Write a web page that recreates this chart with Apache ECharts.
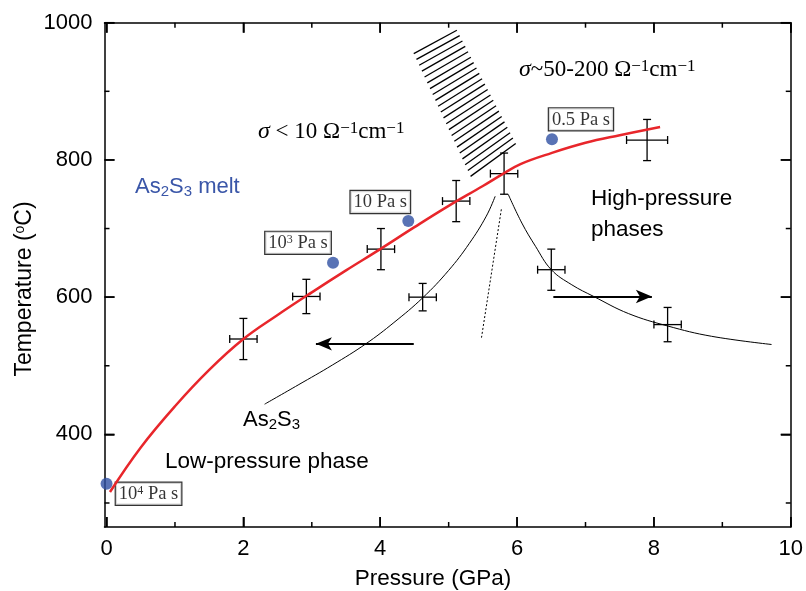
<!DOCTYPE html>
<html><head><meta charset="utf-8">
<script src="https://cdn.jsdelivr.net/npm/echarts@6/dist/echarts.min.js"></script>
<style>html,body{margin:0;padding:0;background:#fff}#c{width:806px;height:591px}</style>
</head><body><div id="c"></div>
<script>
// ---------- data ----------
const xTicks = [0, 2, 4, 6, 8, 10];
const xMinorTicks = [1, 3, 5, 7, 9];
const yTicks = [400, 600, 800, 1000];
const yMinorTicks = [300, 500, 700, 900];

// melting curve (red)
const meltCurve = [[0.05,316],[0.5,381],[1.0,441],[1.5,494],[2.0,539],[2.5,574],[3.0,607],[3.5,639],[4.0,670],[4.5,702],[5.0,733],[5.5,762],[5.8,780],[6.05,794],[6.5,810],[7.0,825],[7.5,836],[8.09,848]];
// low/high pressure phase boundaries (black)
const lowPressureBoundary = [[2.31,444],[2.8,472],[3.3,501],[3.79,532],[4.2,563],[4.62,599],[5.0,639],[5.3,678],[5.55,718],[5.68,747]];
const highPressureBoundary = [[5.87,750],[6.07,708],[6.27,674],[6.5,640],[6.8,618],[7.12,601],[7.63,576],[8.2,558],[8.84,543],[9.72,531]];
const dottedBoundary = [[5.77,728],[5.48,541]];
// experimental points: [P, T, P error, T error]
const errorPoints = [[2.0,539,0.2,30],[2.92,601,0.2,25],[4.01,670,0.2,30],[5.11,740,0.2,30],[5.81,780,0.2,30],[7.9,829,0.3,30],[4.62,600,0.2,20],[6.5,640,0.2,30],[8.2,560,0.2,25]];
// viscosity points (blue)
const viscosityPoints = [[0,328],[3.31,650],[4.41,711],[6.51,830]];
const viscosityLabels = ['10{sup|4} Pa s','10{sup|3} Pa s','10 Pa s','0.5 Pa s'];
// hatched band corners: top-left, top-right, bottom-right, bottom-left
const hatchCorners = [[4.49,955],[5.12,989],[5.98,824],[5.32,776]];
const hatchLineCount = 22;
// arrows [from, to]
const arrows = [[[4.49,532],[3.06,532]],[[6.53,601],[7.97,601]]];

// ---------- chart ----------
const SANS = 'Liberation Sans, Arial, Helvetica, sans-serif';
const SERIF = 'Liberation Serif, Times New Roman, serif';
const BLUE = '#3050a2';
const X_MIN = -0.03, X_MAX = 10, Y_MIN = 265, Y_MAX = 1000;
const labelOffsets = [[42,10],[-35,-20],[-28,-19],[29,-20]];

const chart = echarts.init(document.getElementById('c'), null, {renderer:'canvas'});

function axisX(pos, showLabel){
  return {type:'value', min:X_MIN, max:X_MAX, position:pos,
    axisLine:{show:true, onZero:false, lineStyle:{color:'#000', width:1.5}},
    axisTick:{show:true, inside:true, length:10, customValues:xTicks, lineStyle:{color:'#000', width:1.5}},
    axisLabel:{show:showLabel, customValues:xTicks, formatter:v=>String(v), fontSize:22, color:'#000', fontFamily:SANS, margin:11},
    splitLine:{show:false}};
}
function axisY(pos, showLabel){
  return {type:'value', min:Y_MIN, max:Y_MAX, position:pos,
    axisLine:{show:true, onZero:false, lineStyle:{color:'#000', width:1.5}},
    axisTick:{show:true, inside:true, length:10, customValues:yTicks, lineStyle:{color:'#000', width:1.5}},
    axisLabel:{show:showLabel, customValues:yTicks, formatter:v=>String(v), fontSize:22, color:'#000', fontFamily:SANS, margin:12},
    splitLine:{show:false}};
}

const textGraphics = [
  {type:'text', x:135, y:175, style:{text:'As{sub|2}S{sub|3} melt', fill:'#3a56a8', font:'22px '+SANS,
    rich:{sub:{fontSize:15, fill:'#3a56a8', fontFamily:SANS, verticalAlign:'bottom', padding:[9,0,0,0]}}}},
  {type:'text', x:591, y:187, style:{text:'High-pressure', fill:'#000', font:'22.5px '+SANS}},
  {type:'text', x:591, y:218, style:{text:'phases', fill:'#000', font:'22.5px '+SANS}},
  {type:'text', x:243, y:408, style:{text:'As{sub|2}S{sub|3}', fill:'#000', font:'22px '+SANS,
    rich:{sub:{fontSize:15, fill:'#000', fontFamily:SANS, verticalAlign:'bottom', padding:[9,0,0,0]}}}},
  {type:'text', x:165, y:450, style:{text:'Low-pressure phase', fill:'#000', font:'22.5px '+SANS}},
  {type:'text', x:258, y:120, style:{text:'{i|σ} < 10 Ω{sup|−1}cm{sup|−1}', fill:'#000', font:'23px '+SERIF,
    rich:{i:{fontStyle:'italic', fontSize:24, fontFamily:SERIF}, sup:{fontSize:17, fontFamily:SERIF, verticalAlign:'top'}}}},
  {type:'text', x:519, y:58, style:{text:'{i|σ}~50-200 Ω{sup|−1}cm{sup|−1}', fill:'#000', font:'23px '+SERIF,
    rich:{i:{fontStyle:'italic', fontSize:24, fontFamily:SERIF}, sup:{fontSize:17, fontFamily:SERIF, verticalAlign:'top'}}}},
  {type:'text', x:433, y:579, style:{text:'Pressure (GPa)', fill:'#000', font:'22.5px '+SANS, align:'center', verticalAlign:'middle'}},
  {type:'text', x:25, y:289, rotation:Math.PI/2, style:{text:'Temperature ({sup|o}C)', fill:'#000', font:'23px '+SANS, align:'center', verticalAlign:'middle',
    rich:{sup:{fontSize:14, fontFamily:SANS, verticalAlign:'top'}}}}
];

const option = {
  animation:false,
  backgroundColor:'#fff',
  grid:{left:104.5, right:13, top:22.7, bottom:64, containLabel:false},
  xAxis:[axisX('bottom',true), axisX('top',false)],
  yAxis:[axisY('left',true), axisY('right',false)],
  series:[
    {type:'custom', name:'hatch', silent:true, data:[[5,900]], clip:true,
      renderItem:function(params, api){
        const P = hatchCorners.map(c=>api.coord(c));
        const kids = [];
        for(let i=0;i<hatchLineCount;i++){
          const t = i/(hatchLineCount-1);
          const a = [P[0][0]+(P[3][0]-P[0][0])*t, P[0][1]+(P[3][1]-P[0][1])*t];
          const b = [P[1][0]+(P[2][0]-P[1][0])*t, P[1][1]+(P[2][1]-P[1][1])*t];
          kids.push({type:'line', shape:{x1:a[0],y1:a[1],x2:b[0],y2:b[1]}, style:{stroke:'#000', lineWidth:1.3}});
        }
        return {type:'group', children:kids};
      }},
    {type:'line', name:'low', data:lowPressureBoundary, smooth:0.4, symbol:'none', silent:true,
      lineStyle:{color:'#000', width:1}},
    {type:'line', name:'high', data:highPressureBoundary, smooth:0.4, symbol:'none', silent:true,
      lineStyle:{color:'#000', width:1}},
    {type:'line', name:'dotted', data:dottedBoundary, symbol:'none', silent:true,
      lineStyle:{color:'#000', width:1, type:[2,2]}},
    {type:'custom', name:'err', silent:true, data:errorPoints,
      renderItem:function(params, api){
        const x=api.value(0), y=api.value(1), xe=api.value(2), ye=api.value(3);
        const c=api.coord([x,y]), l=api.coord([x-xe,y]), r=api.coord([x+xe,y]), t=api.coord([x,y+ye]), b=api.coord([x,y-ye]);
        const cap=4; const st={stroke:'#000', lineWidth:1.3};
        return {type:'group', children:[
          {type:'line', shape:{x1:l[0],y1:c[1],x2:r[0],y2:c[1]}, style:st},
          {type:'line', shape:{x1:c[0],y1:t[1],x2:c[0],y2:b[1]}, style:st},
          {type:'line', shape:{x1:l[0],y1:c[1]-cap,x2:l[0],y2:c[1]+cap}, style:st},
          {type:'line', shape:{x1:r[0],y1:c[1]-cap,x2:r[0],y2:c[1]+cap}, style:st},
          {type:'line', shape:{x1:c[0]-cap,y1:t[1],x2:c[0]+cap,y2:t[1]}, style:st},
          {type:'line', shape:{x1:c[0]-cap,y1:b[1],x2:c[0]+cap,y2:b[1]}, style:st}
        ]};
      }},
    {type:'line', name:'melt', data:meltCurve, smooth:0.4, symbol:'none', silent:true,
      lineStyle:{color:'#e8262b', width:2.5}},
    {type:'line', name:'arrows', data:[], silent:true,
      markLine:{silent:true, symbol:['none','arrow'], symbolSize:[10,16], animation:false,
        label:{show:false}, emphasis:{disabled:true},
        lineStyle:{color:'#000', width:2, type:'solid'},
        data:arrows.map(a=>[{coord:a[0]},{coord:a[1]}])}},
    {type:'scatter', name:'visc', silent:true, symbolSize:12, itemStyle:{color:BLUE}, clip:false,
      data:viscosityPoints.map((p,i)=>({value:p, label:{show:true, position:'inside', offset:labelOffsets[i],
        formatter:viscosityLabels[i], fontFamily:SERIF, fontSize:18.5, color:'#000',
        backgroundColor:'#fff', borderColor:'#000', borderWidth:1.2, padding:[2,3,1,3], lineHeight:19,
        rich:{sup:{fontSize:12, fontFamily:SERIF, color:'#000', verticalAlign:'top', lineHeight:19}}}})),
    }
  ],
  graphic: textGraphics
};
chart.setOption(option);

// inward ticks on all four sides, positioned through the chart's own axis scales
try {
  const toPx = (x, y) => chart.convertToPixel({xAxisIndex:0, yAxisIndex:0}, [x, y]);
  const lo = toPx(X_MIN, Y_MIN), hi = toPx(X_MAX, Y_MAX);
  const gl = lo[0], gb = lo[1], gr = hi[0], gt = hi[1];
  const tickStyle = {stroke:'#000', lineWidth:1.5};
  const tickGraphics = [];
  const addX = (v, len) => {
    const px = toPx(v, Y_MIN)[0];
    tickGraphics.push({type:'line', silent:true, z:50, shape:{x1:px, y1:gb, x2:px, y2:gb-len}, style:tickStyle});
    tickGraphics.push({type:'line', silent:true, z:50, shape:{x1:px, y1:gt, x2:px, y2:gt+len}, style:tickStyle});
  };
  const addY = (v, len) => {
    const py = toPx(X_MIN, v)[1];
    tickGraphics.push({type:'line', silent:true, z:50, shape:{x1:gl, y1:py, x2:gl+len, y2:py}, style:tickStyle});
    tickGraphics.push({type:'line', silent:true, z:50, shape:{x1:gr, y1:py, x2:gr-len, y2:py}, style:tickStyle});
  };
  xTicks.forEach(v=>addX(v,10)); xMinorTicks.forEach(v=>addX(v,5));
  yTicks.forEach(v=>addY(v,10)); yMinorTicks.forEach(v=>addY(v,5));
  chart.setOption({graphic: textGraphics.concat(tickGraphics)});
} catch (e) { console.error(e); }
</script>
</body></html>
